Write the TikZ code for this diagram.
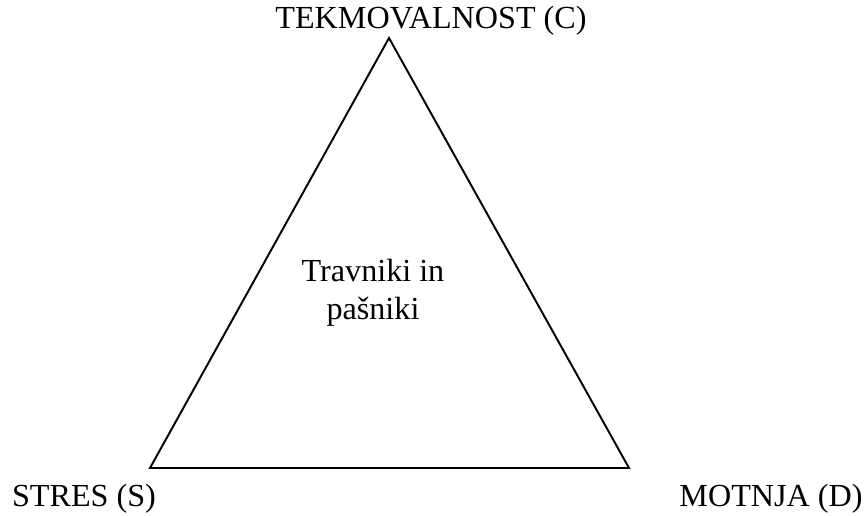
\documentclass[tikz,border=0pt]{standalone}
\usepackage{fontspec}
\setmainfont{Liberation Serif}
\usepackage{tikz}

\begin{document}
\begin{tikzpicture}[x=0.02cm, y=-0.02cm, every node/.style={font=\fontsize{18.3}{21.6}\selectfont, inner sep=0pt, anchor=base}]
\useasboundingbox (0,0) rectangle (866,516);
\coordinate (c) at (389,38);
\coordinate (s) at (150,468);
\coordinate (d) at (629,468);
\draw[line width=1.1pt, line join=miter] (c) -- (s) -- (d) -- cycle;
\node (labelc) at (431,29) {TEKMOVALNOST (C)};
\node (labels) at (84,507) {STRES (S)};
\node (labeld) at (771,507) {MOTNJA (D)};
\node (grass1) at (373,282) {Travniki in};
\node (grass2) at (373,320) {pašniki};
\end{tikzpicture}
\end{document}
